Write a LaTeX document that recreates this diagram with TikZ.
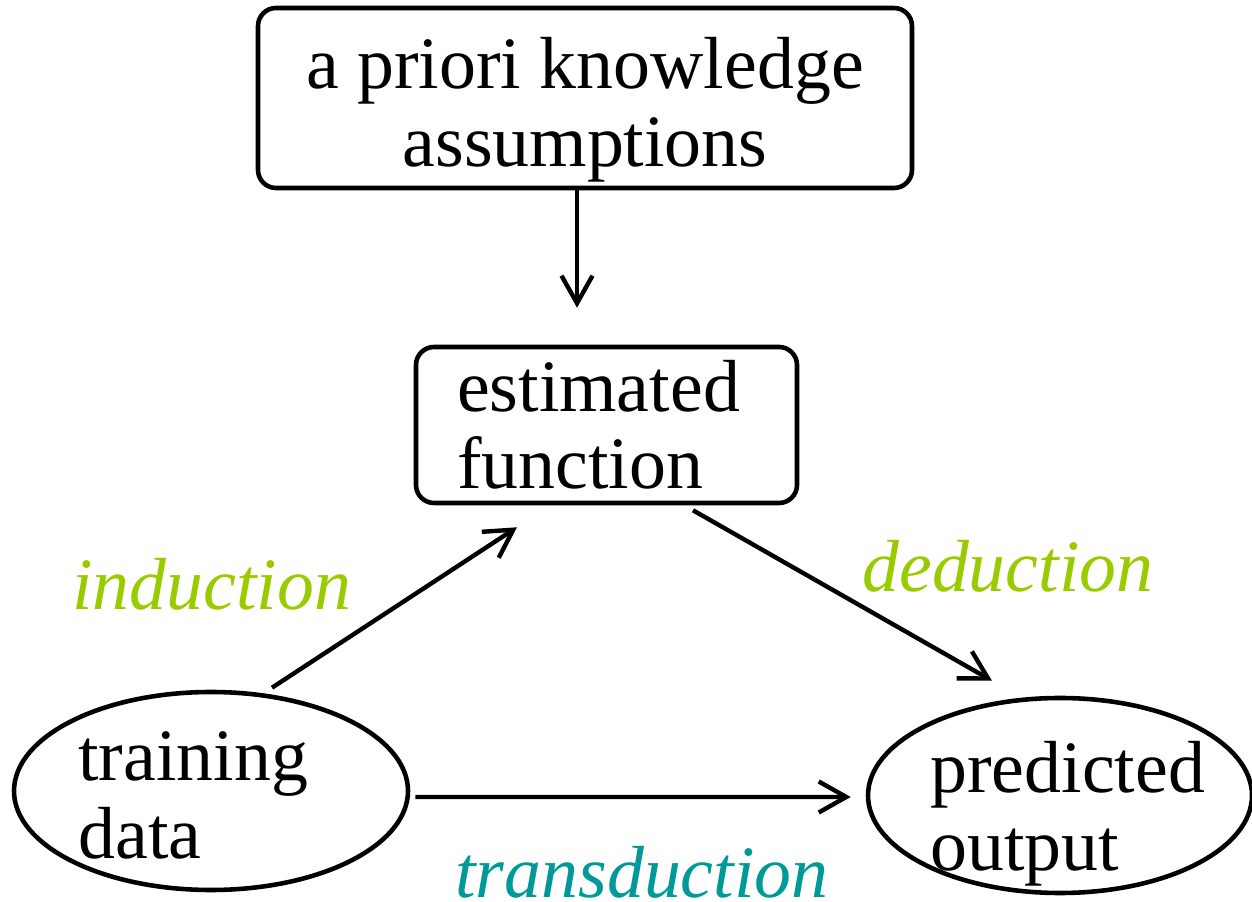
\documentclass[tikz,border=0pt]{standalone}
\usepackage{fontspec}
\setmainfont{Liberation Serif}
\usetikzlibrary{arrows.meta,shapes.geometric}
\definecolor{ductgreen}{HTML}{99CC00}
\definecolor{transteal}{HTML}{009999}
\tikzset{
  big/.style={font=\fontsize{42}{44}\selectfont},
  box/.style={big,draw,line width=2.6pt,rounded corners=0.36cm,inner sep=0pt},
  oval/.style={draw,ellipse,line width=2.6pt,inner sep=0pt},
  conn/.style={line width=2.5pt,-{Straight Barb[length=5.5mm,width=6.2mm,line width=2.5pt]}},
  lbl/.style={big,font=\fontsize{42}{44}\selectfont\itshape,inner sep=0pt,anchor=base west}
}

\begin{document}
\begin{tikzpicture}
	\useasboundingbox (0,0) rectangle (25.04,18.02);
	% boxes
	\node[box,minimum width=13.08cm,minimum height=3.6cm,align=center] (apk) at (11.7,16.06)
		{\rule{0pt}{1.5cm}a priori knowledge\\assumptions};
	\node[box,minimum height=3.12cm,text width=5.98cm,inner xsep=0.82cm,align=left] (est) at (12.13,9.52)
		{estimated\\function};
	% ellipses
	\node[oval,minimum width=7.88cm,minimum height=3.96cm] (train) at (4.22,2.2) {};
	\node[oval,minimum width=7.68cm,minimum height=3.9cm] (pred) at (21.2,2.11) {};
	\node[big,inner sep=0pt,anchor=base west,align=left] (traintxt) at (1.56,0.86) {training\\data};
	\node[big,inner sep=0pt,anchor=base west,align=left] (predtxt) at (18.6,0.62) {predicted\\output};
	% arrows
	\draw[conn] ([xshift=-0.16cm]apk.south) -- ([xshift=-0.16cm]apk.south |- est.north)
		[shorten >=0.74cm];
	\draw[conn] ([shift={(1.22,0.04)}]train.north) -- ([shift={(-1.79,-0.44)}]est.south);
	\draw[conn] ([shift={(1.73,-0.1)}]est.south) -- ([shift={(-1.36,0.3)}]pred.north);
	\draw[conn] ([shift={(0.1,-0.12)}]train.east) -- ([shift={(-0.3,-0.03)}]pred.west);
	% labels
	\node[lbl,text=ductgreen] (ind) at (1.44,5.82) {induction};
	\node[lbl,text=ductgreen] (ded) at (17.24,6.18) {deduction};
	\node[lbl,text=transteal] (trans) at (9.1,0.07) {transduction};
\end{tikzpicture}
\end{document}
